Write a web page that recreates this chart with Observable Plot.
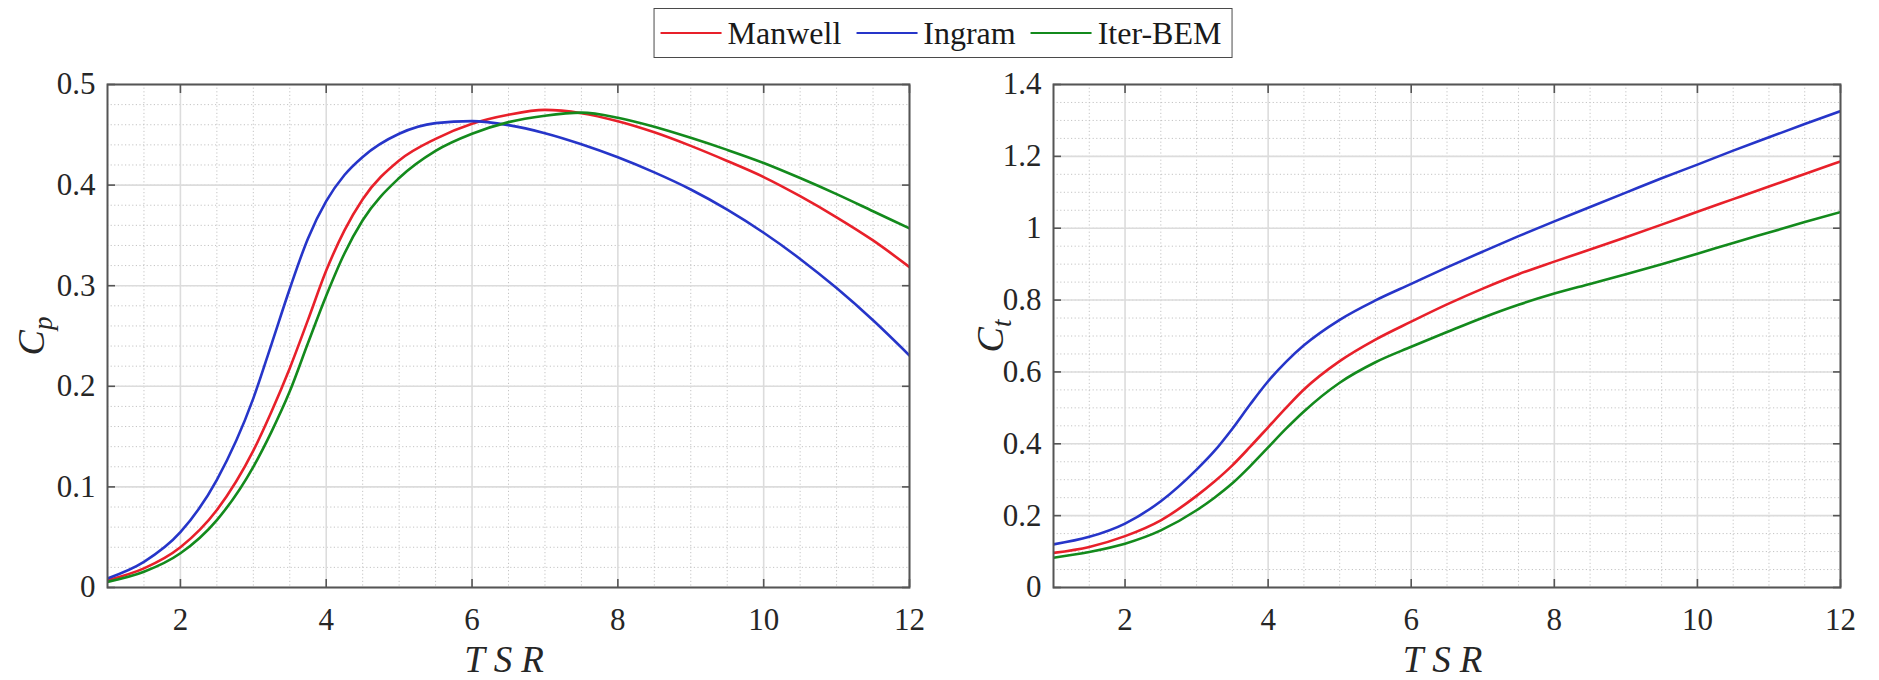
<!DOCTYPE html>
<html>
<head>
<meta charset="utf-8">
<script src="https://cdn.jsdelivr.net/npm/d3@7"></script>
<script src="https://cdn.jsdelivr.net/npm/@observablehq/plot@0.6"></script>
<style>
  body { margin: 0; background: #fff; }
  #wrap { position: relative; width: 1879px; height: 680px; font-family: "Liberation Serif", "DejaVu Serif", "Noto Serif", "Times New Roman", Times, serif; color: #1a1a1a; }
  #legend { position: absolute; left: 943px; transform: translateX(-50%); top: 8px; height: 48px; border: 1.5px solid #4a4a4a;
            display: flex; align-items: center; white-space: nowrap; padding: 0 10px 0 6px; }
  .item { display: flex; align-items: center; margin-right: 15px; }
  .item:last-child { margin-right: 0; }
  .item .sw { width: 61px; height: 2.6px; margin-right: 6px; }
  .item .lb { font-size: 32px; line-height: 1; }
  .plot { position: absolute; top: 65px; }
  .plot svg text, .plot svg tspan { font-family: "Liberation Serif", "DejaVu Serif", "Noto Serif", "Times New Roman", Times, serif !important; }
</style>
</head>
<body>
<div id="wrap">
  <div id="legend"></div>
  <div id="p1" class="plot" style="left:0px"></div>
  <div id="p2" class="plot" style="left:960px"></div>
</div>
<script>
// ---- data ----
const tsr = [1, 1.5, 2, 2.5, 3, 3.25, 3.5, 3.75, 4, 4.25, 4.5, 5, 5.5, 6, 6.5, 7, 7.5, 8, 8.5, 9, 9.5, 10, 10.5, 11, 11.5, 12];

const cpManwell = [0.0073, 0.019, 0.040, 0.077, 0.136, 0.175, 0.218, 0.266, 0.315, 0.355, 0.386, 0.4245, 0.446, 0.461, 0.470, 0.4748, 0.4715, 0.4635, 0.4525, 0.439, 0.424, 0.408, 0.389, 0.368, 0.345, 0.3185];
const cpIngram  = [0.009, 0.0255, 0.055, 0.107, 0.188, 0.242, 0.297, 0.347, 0.384, 0.410, 0.428, 0.451, 0.4616, 0.4636, 0.4596, 0.4516, 0.4406, 0.4276, 0.4126, 0.3956, 0.3756, 0.3526, 0.3266, 0.2976, 0.2656, 0.2306];
const cpIterBEM = [0.0056, 0.0156, 0.034, 0.067, 0.120, 0.155, 0.195, 0.243, 0.290, 0.332, 0.365, 0.407, 0.434, 0.451, 0.4626, 0.469, 0.472, 0.467, 0.458, 0.447, 0.435, 0.422, 0.407, 0.391, 0.374, 0.357];

const ctManwell = [0.0964, 0.113, 0.143, 0.187, 0.255, 0.295, 0.340, 0.392, 0.446, 0.500, 0.551, 0.630, 0.690, 0.740, 0.788, 0.832, 0.872, 0.907, 0.941, 0.975, 1.010, 1.046, 1.081, 1.116, 1.151, 1.186];
const ctIngram  = [0.120, 0.141, 0.178, 0.240, 0.328, 0.380, 0.442, 0.510, 0.574, 0.628, 0.674, 0.745, 0.799, 0.845, 0.891, 0.935, 0.978, 1.019, 1.059, 1.099, 1.139, 1.177, 1.216, 1.253, 1.290, 1.326];
const ctIterBEM = [0.083, 0.099, 0.122, 0.159, 0.215, 0.250, 0.290, 0.338, 0.390, 0.442, 0.490, 0.570, 0.627, 0.670, 0.711, 0.751, 0.787, 0.818, 0.845, 0.872, 0.900, 0.929, 0.959, 0.988, 1.017, 1.045];

const series = ["Manwell", "Ingram", "Iter-BEM"];
const colors = ["#e8202a", "#2635c9", "#138a1c"];

const xTicks = [2, 4, 6, 8, 10, 12];
const cpTicks = [0, 0.1, 0.2, 0.3, 0.4, 0.5];
const ctTicks = [0, 0.2, 0.4, 0.6, 0.8, 1, 1.2, 1.4];

// minor grid positions
const xMinor = d3.range(1, 12.001, 0.5).filter(v => !xTicks.includes(v));
const cpMinor = d3.range(0, 0.5001, 0.02);
const ctMinor = d3.range(0, 1.4001, 0.05);

function rows(a, b, c) {
  return tsr.flatMap((x, i) => [
    {x, y: a[i], s: series[0]},
    {x, y: b[i], s: series[1]},
    {x, y: c[i], s: series[2]}
  ]);
}

// legend
const legend = d3.select("#legend");
series.forEach((s, i) => {
  const it = legend.append("div").attr("class", "item");
  it.append("div").attr("class", "sw").style("background", colors[i]);
  it.append("div").attr("class", "lb").text(s);
});

const FONT = '"Liberation Serif", "DejaVu Serif", "Noto Serif", "Times New Roman", Times, serif';
const FRAME = "#555555";
function makePlot({data, yDomain, yTicks, yMinor, yLabel, width, marginLeft, marginRight, yLabelOffset}) {
  return Plot.plot({
    width, height: 615,
    marginLeft, marginRight, marginTop: 19, marginBottom: 93,
    style: {fontFamily: FONT, fontSize: "31px", color: "#262626", background: "transparent", overflow: "visible"},
    x: {domain: [1, 12]},
    y: {domain: yDomain},
    color: {domain: series, range: colors},
    marks: [
      Plot.gridX(xMinor, {stroke: "#c4c4c4", strokeOpacity: 1, strokeWidth: 1, strokeDasharray: "1.2,2.4"}),
      Plot.gridY(yMinor, {stroke: "#c4c4c4", strokeOpacity: 1, strokeWidth: 1, strokeDasharray: "1.2,2.4"}),
      Plot.gridX(xTicks, {stroke: "#dcdcdc", strokeOpacity: 1, strokeWidth: 1.6}),
      Plot.gridY(yTicks, {stroke: "#dcdcdc", strokeOpacity: 1, strokeWidth: 1.6}),
      Plot.line(data, {x: "x", y: "y", z: "s", stroke: "s", strokeWidth: 2.6, curve: "monotone-x", clip: true}),
      Plot.frame({stroke: FRAME, strokeWidth: 2}),
      // labels
      Plot.axisX(xTicks, {anchor: "bottom", tickSize: 0, tickPadding: 20, tickFormat: d => String(d), label: "TSR", labelAnchor: "center", labelArrow: "none", labelOffset: 84}),
      Plot.axisY(yTicks, {anchor: "left", tickSize: 0, tickPadding: 12, tickFormat: d => String(d), label: yLabel, labelAnchor: "center", labelArrow: "none", labelOffset: yLabelOffset}),
      // inward ticks on all four sides
      Plot.axisX(xTicks, {anchor: "bottom", tickSize: -8, tickFormat: () => "", label: null, stroke: FRAME, strokeWidth: 1.6}),
      Plot.axisX(xTicks, {anchor: "top", tickSize: -8, tickFormat: () => "", label: null, stroke: FRAME, strokeWidth: 1.6}),
      Plot.axisY(yTicks, {anchor: "left", tickSize: -8, tickFormat: () => "", label: null, stroke: FRAME, strokeWidth: 1.6}),
      Plot.axisY(yTicks, {anchor: "right", tickSize: -8, tickFormat: () => "", label: null, stroke: FRAME, strokeWidth: 1.6})
    ]
  });
}

function styleLabels(svg, sub) {
  const s = d3.select(svg);
  s.attr("font-family", FONT);
  s.selectAll("g").attr("font-family", null);
  s.selectAll('g[aria-label="x-axis label"] text')
    .style("font-style", "italic").style("font-size", "37px").style("letter-spacing", "9px");
  s.selectAll('g[aria-label="y-axis label"] text').each(function() {
    const t = d3.select(this);
    t.style("font-style", "italic").style("font-size", "38px");
    t.text("");
    t.append("tspan").text("C");
    t.append("tspan").attr("dy", "0.28em").style("font-size", "27px").text(sub);
  });
}

const p1 = makePlot({data: rows(cpManwell, cpIngram, cpIterBEM), yDomain: [0, 0.5], yTicks: cpTicks, yMinor: cpMinor,
  yLabel: "Cp", width: 960, marginLeft: 107, marginRight: 51, yLabelOffset: 90});
const p2 = makePlot({data: rows(ctManwell, ctIngram, ctIterBEM), yDomain: [0, 1.4], yTicks: ctTicks, yMinor: ctMinor,
  yLabel: "Ct", width: 919, marginLeft: 93, marginRight: 39, yLabelOffset: 77});
styleLabels(p1, "p");
styleLabels(p2, "t");
document.getElementById("p1").append(p1);
document.getElementById("p2").append(p2);
</script>
</body>
</html>
